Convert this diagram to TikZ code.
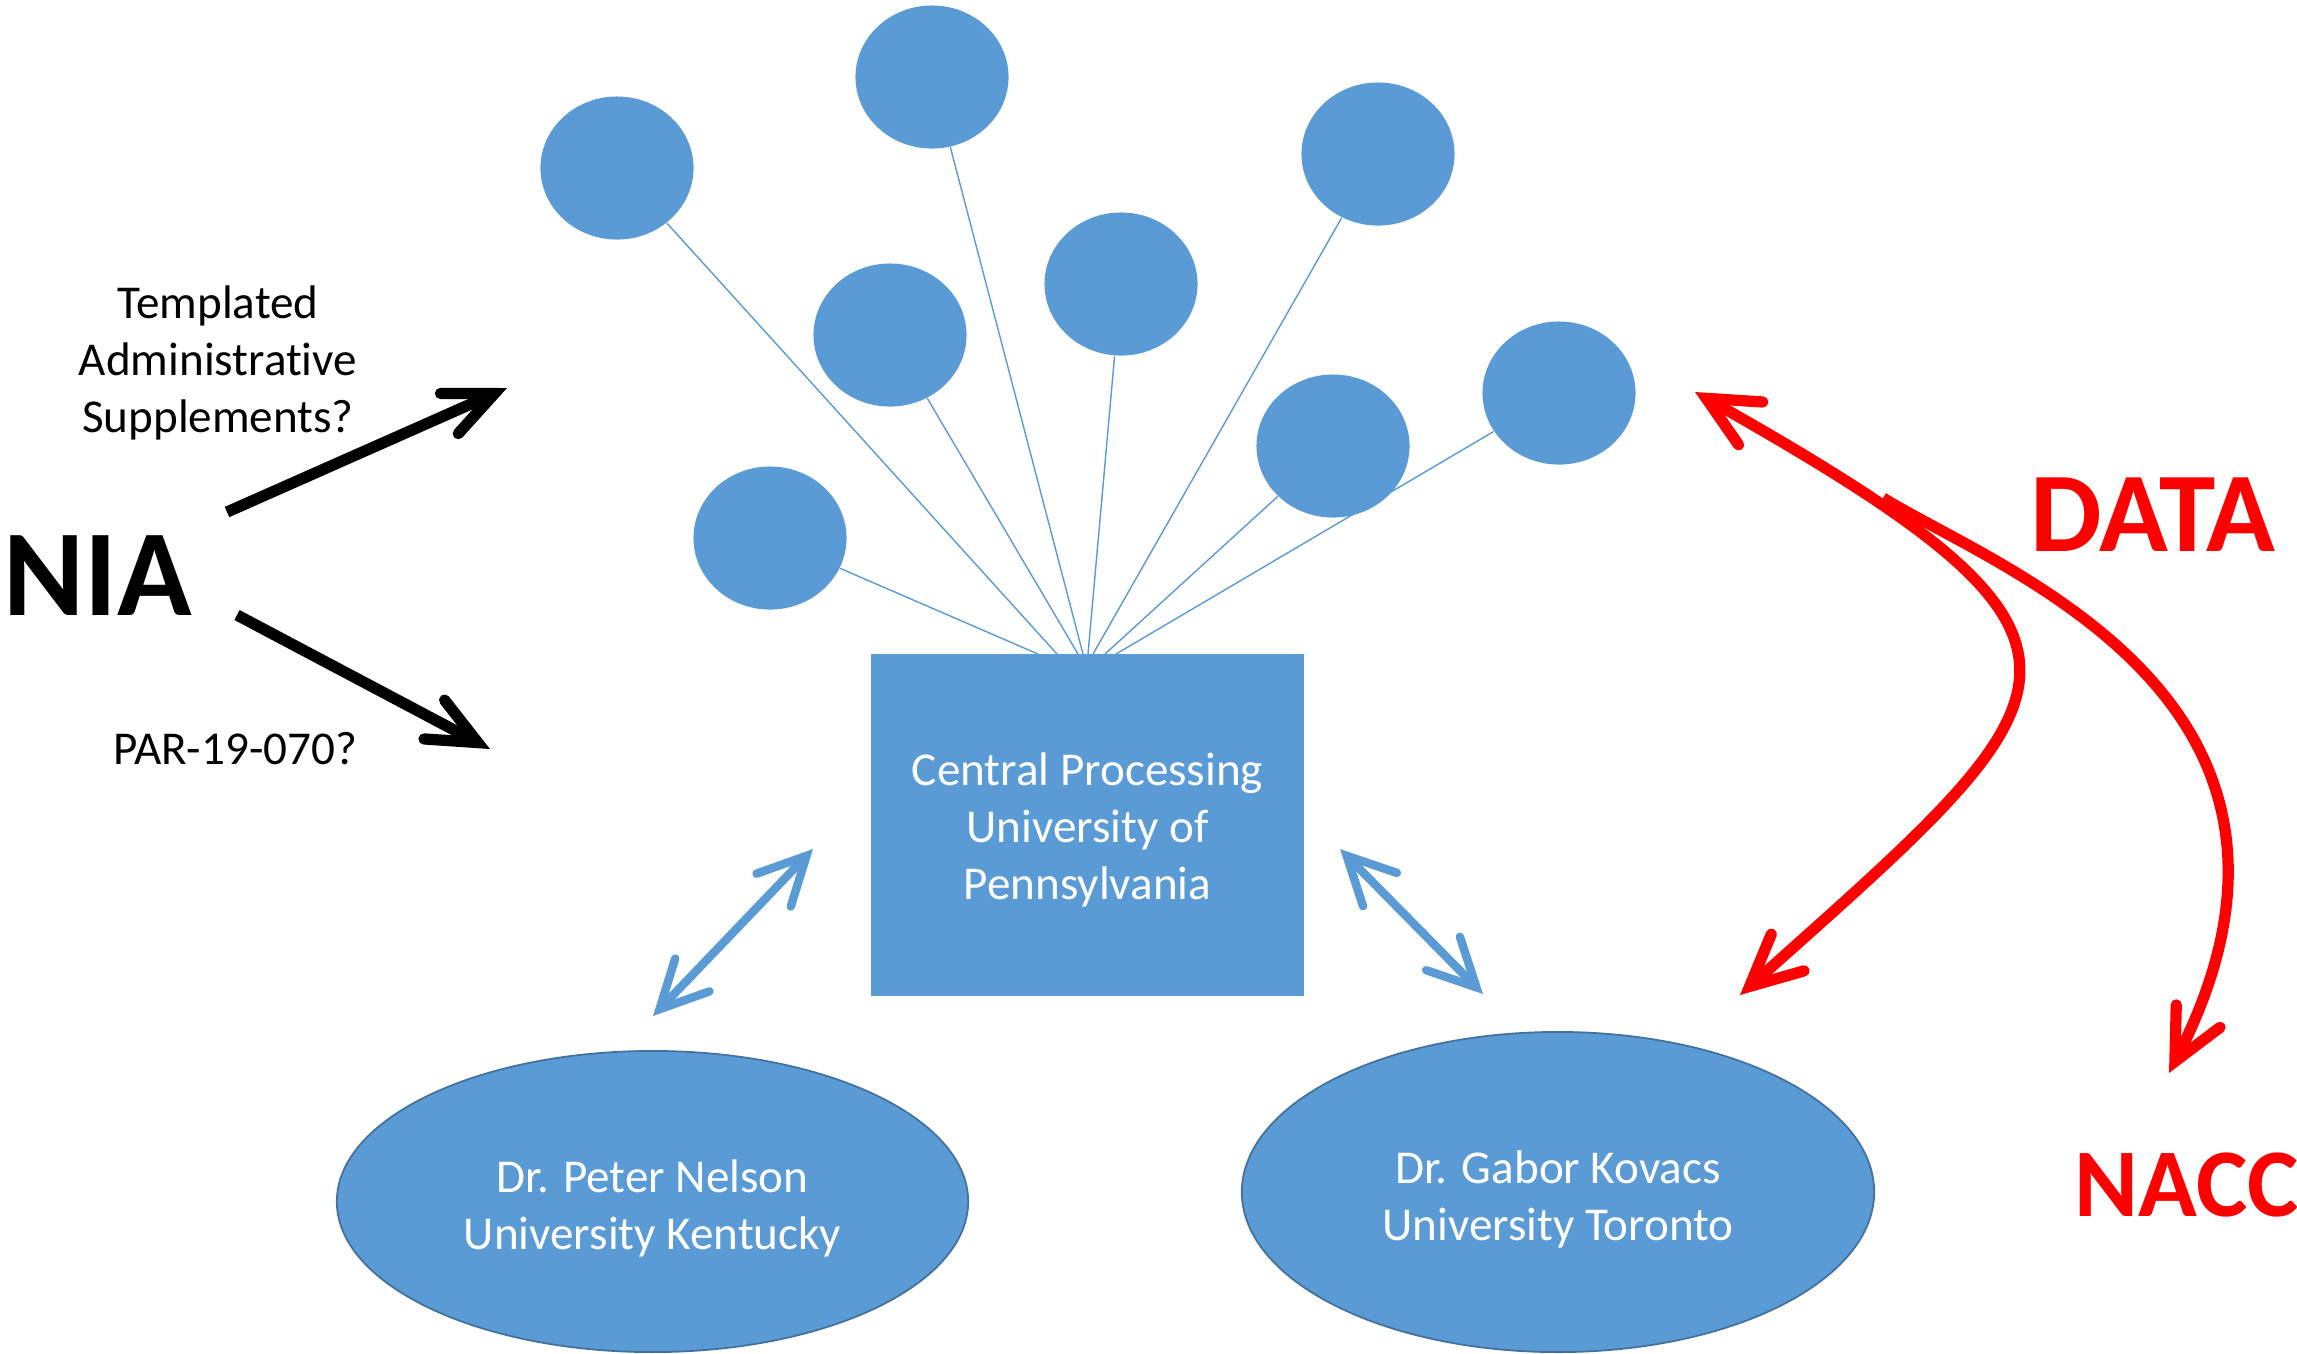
\documentclass[tikz,border=0pt]{standalone}
\usepackage{fontspec}
\setmainfont{Carlito}[Ligatures=CommonOff]
\usetikzlibrary{shapes.geometric,arrows.meta}
\definecolor{nodeblue}{HTML}{5B9BD5}
\definecolor{edgeblue}{HTML}{41719C}
\definecolor{datared}{HTML}{FF0000}
\newcommand{\topstrut}[1]{\rule{0pt}{#1}}
\begin{document}
\begin{tikzpicture}[x=0.01cm,y=-0.01cm,
  bubble/.style={ellipse,fill=nodeblue,minimum width=1.53cm,minimum height=1.43cm,inner sep=0pt},
  spoke/.style={draw=nodeblue,line width=0.4pt},
  bigoval/.style={ellipse,fill=nodeblue,draw=edgeblue,line width=0.5pt,inner sep=0pt,align=center,text=white,font=\fontsize{13.4pt}{16.2pt}\selectfont},
  procbox/.style={rectangle,fill=nodeblue,minimum width=4.33cm,minimum height=3.42cm,inner sep=0pt,align=center,text=white,font=\fontsize{13.4pt}{16.2pt}\selectfont},
  lbl/.style={inner sep=0pt,align=center,font=\fontsize{13.4pt}{16.2pt}\selectfont},
  barbB/.tip={Straight Barb[length=13.5pt,width=13.5pt,line cap=round,line join=miter]},
  barbR/.tip={Straight Barb[length=14.5pt,width=14pt,line cap=round,line join=miter]},
  barbK/.tip={Straight Barb[length=14pt,width=12.5pt,line cap=round,line join=miter]},
  bluearrow/.style={draw=nodeblue,line width=2.4pt,{barbB}-{barbB}},
  redarrow/.style={draw=datared,line width=3.2pt},
  blackarrow/.style={draw=black,line width=3.2pt,-{barbK}}
]
\useasboundingbox (0,0) rectangle (2297,1353);

% spoke end points on top of the central box
\coordinate (s8) at (1038,654);
\coordinate (s1) at (1057,654);
\coordinate (s5) at (1078,654);
\coordinate (s2) at (1083,654);
\coordinate (s4) at (1088,654);
\coordinate (s3) at (1093,654);
\coordinate (s7) at (1105,654);
\coordinate (s6) at (1116,654);

% bubbles
\node[bubble] (c1) at (617,168) {};
\node[bubble] (c2) at (932,77) {};
\node[bubble] (c3) at (1378,154) {};
\node[bubble] (c4) at (1121,284) {};
\node[bubble] (c5) at (890,335) {};
\node[bubble] (c6) at (1559,393) {};
\node[bubble] (c7) at (1333,446) {};
\node[bubble] (c8) at (770,538) {};

\foreach \c in {1,...,8} {\draw[spoke] (c\c) -- (s\c);}

% central box
\node[procbox] (proc) at (1087.5,825) {\topstrut{12.2pt}Central Processing\\University of\\Pennsylvania};

% bottom ovals
\node[bigoval,minimum width=6.31cm,minimum height=3.01cm] (nelson) at (652.5,1201.5) {\topstrut{13.3pt}Dr. Peter Nelson\\University Kentucky};
\node[bigoval,minimum width=6.32cm,minimum height=3.20cm] (kovacs) at (1558,1192) {\topstrut{13.3pt}Dr. Gabor Kovacs\\University Toronto};

% blue double arrows
\coordinate (la1) at (813,849);
\coordinate (la2) at (653,1016);
\coordinate (ra1) at (1340,849);
\coordinate (ra2) at (1483,994);
\draw[bluearrow] (la1) -- (la2);
\draw[bluearrow] (ra1) -- (ra2);

% left labels and black arrows
\node[inner sep=0pt,anchor=base,font=\fontsize{35pt}{42pt}\selectfont\bfseries] (nia) at (98,615) {NIA};
\node[lbl] (tas) at (218,363) {Templated\\Administrative\\Supplements?};
\node[lbl,anchor=base] (par) at (235,764) {PAR-19-070?};
\coordinate (k1t) at (227,512);
\coordinate (k1h) at (507,388);
\coordinate (k2t) at (237,615);
\coordinate (k2h) at (490,749);
\draw[blackarrow] (k1t) -- (k1h);
\draw[blackarrow] (k2t) -- (k2h);

% red data arrows
\coordinate (rA1) at (1695,392);
\coordinate (rA2) at (1740,995);
\coordinate (rB0) at (1883,498);
\coordinate (rB1) at (2169,1073);
\draw[redarrow,{barbR}-{barbR}] (rA1) .. controls (2147,647) and (2084,688) .. (rA2);
\draw[redarrow,-{barbR}] (rB0) .. controls (2000,570) and (2360,700) .. (rB1);

\node[inner sep=0pt,anchor=base,text=datared,font=\fontsize{32.3pt}{38pt}\selectfont\bfseries] (data) at (2153,551) {DATA};
\node[inner sep=0pt,anchor=base west,text=datared,font=\fontsize{27.6pt}{33pt}\selectfont\bfseries] (nacc) at (2074,1216) {NACC};
\end{tikzpicture}
\end{document}
